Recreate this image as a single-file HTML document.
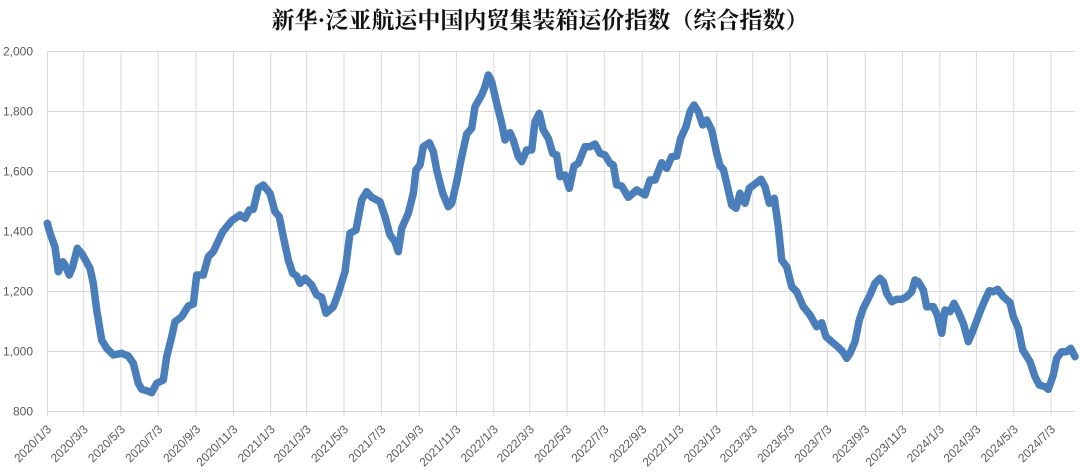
<!DOCTYPE html>
<html><head><meta charset="utf-8"><style>
html,body{margin:0;padding:0;background:#fff;}
svg{display:block;}
</style></head><body>
<svg width="1080" height="476" viewBox="0 0 1080 476" xmlns="http://www.w3.org/2000/svg">
<rect width="1080" height="476" fill="#fff"/>
<text x="540" y="28" text-anchor="middle" font-family="'Liberation Serif','Noto Serif CJK SC',serif" font-weight="bold" font-size="23" fill="#111">新华·泛亚航运中国内贸集装箱运价指数（综合指数）</text>
<g stroke="#d9d9d9" stroke-width="1" fill="none">
<path d="M47 51.5H1075M47 111.5H1075M47 171.5H1075M47 231.5H1075M47 291.5H1075M47 351.5H1075M47 411.5H1075"/>
<path d="M47.5 51V416M83.7 51V416M120.9 51V416M158.2 51V416M196.1 51V416M233.4 51V416M270.7 51V416M306.7 51V416M344 51V416M381.3 51V416M419.2 51V416M456.4 51V416M493.7 51V416M529.8 51V416M567 51V416M604.3 51V416M642.2 51V416M679.5 51V416M716.7 51V416M752.8 51V416M790.1 51V416M827.3 51V416M865.2 51V416M902.5 51V416M939.8 51V416M976.4 51V416M1013.7 51V416M1051 51V416"/>
</g>
<g font-family="'Liberation Sans',sans-serif" font-size="12" fill="#595959" text-anchor="end">
<text x="33" y="55.5">2,000</text>
<text x="33" y="115.5">1,800</text>
<text x="33" y="175.5">1,600</text>
<text x="33" y="235.5">1,400</text>
<text x="33" y="295.5">1,200</text>
<text x="33" y="355.5">1,000</text>
<text x="33" y="415.5">800</text>
</g>
<g font-family="'Liberation Sans',sans-serif" font-size="12" fill="#595959" text-anchor="end">
<text transform="translate(52,430) rotate(-45)">2020/1/3</text>
<text transform="translate(88.7,430) rotate(-45)">2020/3/3</text>
<text transform="translate(125.9,430) rotate(-45)">2020/5/3</text>
<text transform="translate(163.2,430) rotate(-45)">2020/7/3</text>
<text transform="translate(201.1,430) rotate(-45)">2020/9/3</text>
<text transform="translate(238.4,430) rotate(-45)">2020/11/3</text>
<text transform="translate(275.7,430) rotate(-45)">2021/1/3</text>
<text transform="translate(311.7,430) rotate(-45)">2021/3/3</text>
<text transform="translate(349,430) rotate(-45)">2021/5/3</text>
<text transform="translate(386.3,430) rotate(-45)">2021/7/3</text>
<text transform="translate(424.2,430) rotate(-45)">2021/9/3</text>
<text transform="translate(461.4,430) rotate(-45)">2021/11/3</text>
<text transform="translate(498.7,430) rotate(-45)">2022/1/3</text>
<text transform="translate(534.8,430) rotate(-45)">2022/3/3</text>
<text transform="translate(572,430) rotate(-45)">2022/5/3</text>
<text transform="translate(609.3,430) rotate(-45)">2022/7/3</text>
<text transform="translate(647.2,430) rotate(-45)">2022/9/3</text>
<text transform="translate(684.5,430) rotate(-45)">2022/11/3</text>
<text transform="translate(721.7,430) rotate(-45)">2023/1/3</text>
<text transform="translate(757.8,430) rotate(-45)">2023/3/3</text>
<text transform="translate(795.1,430) rotate(-45)">2023/5/3</text>
<text transform="translate(832.3,430) rotate(-45)">2023/7/3</text>
<text transform="translate(870.2,430) rotate(-45)">2023/9/3</text>
<text transform="translate(907.5,430) rotate(-45)">2023/11/3</text>
<text transform="translate(944.8,430) rotate(-45)">2024/1/3</text>
<text transform="translate(981.4,430) rotate(-45)">2024/3/3</text>
<text transform="translate(1018.7,430) rotate(-45)">2024/5/3</text>
<text transform="translate(1056,430) rotate(-45)">2024/7/3</text>
</g>
<polyline fill="none" stroke="#4a7ebb" stroke-width="7.5" stroke-linejoin="round" stroke-linecap="round" points="47.3,223.3 50,233 55,247 58.3,271.7 62.7,261.7 65,265 69.3,275 72.7,266.7 77.3,248.3 81.7,253.3 90,268.3 93.3,283.3 96.7,310 101.7,340 106.7,348.3 113.3,355 121.7,353.3 128.3,356 133.3,363.3 138.3,383.3 141.7,389.3 146.7,390.7 151.7,392.7 156.7,383.3 163.3,380 166.7,356.7 171.7,336.7 175,321.7 181.7,316.7 188.3,306 193.3,304 196.7,275 203.3,275 208.3,256.7 213.3,251.7 222.7,231.7 231.7,220.7 240,215 245,218.3 249.3,210 253.3,209.3 258.3,188.3 263.3,185 270,193.3 275,211.7 279.3,216.7 283.3,236.7 288.3,260 292.7,273.3 296.7,276 300,283.3 305,278.3 311.7,285 316.7,295 321.7,297.3 326,313.3 333.3,306.7 338.3,293.3 345,271.7 350,233.3 356,230 361.7,200 366.7,191.7 371.7,197.3 380,201.7 385,216.7 390,235 395,241.7 398.3,251.7 401.7,228.3 408.3,213.3 413.3,193.3 416,170 420,165 423.3,146.7 429.3,142.7 433.3,151.7 436.7,170 442.7,193.3 448.3,206.7 451.7,203.3 456.7,181.7 461.7,156.7 466.7,134 471.7,128.3 475,106.7 481.7,95 485,86.7 488.3,75 491.7,81.7 496.7,103.3 501.7,123.3 505,140 510,132.7 513.3,140 518.3,156.7 521.7,161.7 526.7,150 531.7,150 535,121.7 539.3,113.3 543.3,130 548.3,138.3 552.7,153.3 556.7,155 560,176.7 565,175 569.3,188.3 574,166 578.3,163.3 585,146.7 590,146.7 595,144 600,153.3 605,155 610,163.3 613.3,165 616.7,185 621.7,186 628.3,197.3 636.7,190 645,195 650,180 655,180 661.7,162.7 666.7,168.3 671.7,156.7 676.7,156 680.7,138.3 686,126.7 690,111.7 694,105 698.3,111.7 702.7,125 706.7,120 711.7,130 716.7,153.3 720,166 723.3,169.3 726.7,183.3 731.7,205 736,208.3 740,193.3 745,203.3 749.3,188.3 755,184 761,179.3 765,186.7 769.3,203.3 774.3,198.3 778.3,226.7 781.7,260 786.7,266.7 791.7,286.7 796.7,291.7 803.3,306.7 810,315 816.7,326.7 821.7,322.7 826,336.7 831.7,341.7 838.3,347.3 842.7,351.7 846.7,358.3 850,353.3 855,341.7 859.3,320 863.3,308.3 870,295 875,283.3 880,278.3 883.3,281.7 886.7,293.3 891.7,301.7 896.7,299.3 901.7,299.3 906.7,296.7 911.7,291.7 915,280 918.3,281.7 923.3,290 926.7,306.7 933.3,306.7 937.3,315 941.7,333.3 945,310 950,311.7 954,303.3 958.3,311.7 963.3,323.3 968.3,341.7 973.3,330 980,311.7 985,300 989.3,290.7 993.3,291.7 997.7,289.3 1003.3,296.7 1010,302.7 1013.3,316.7 1018.3,328.3 1022.7,350 1030,361.7 1035,376.7 1039.3,385 1045,386.7 1048.3,389.3 1053.3,375 1056.7,358.3 1061.7,351.7 1066.7,351.7 1070.7,348.3 1075,356.7"/>
</svg>
</body></html>
